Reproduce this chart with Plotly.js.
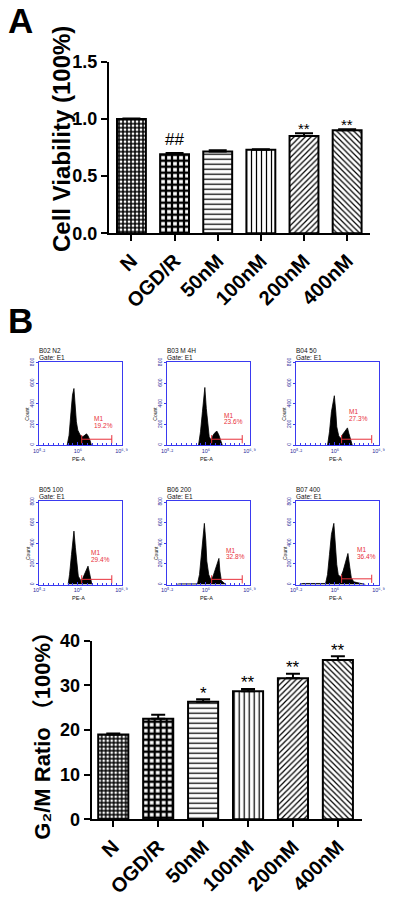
<!DOCTYPE html>
<html><head><meta charset="utf-8">
<script src="https://cdn.plot.ly/plotly-3.0.1.min.js"></script>
<style>html,body{margin:0;padding:0;background:#fff}#chart{width:400px;height:900px}</style>
</head><body><div id="chart"></div>
<script>
// ================= DATA =================
const groups = ['N', 'OGD/R', '50nM', '100nM', '200nM', '400nM'];

// Panel A: cell viability
const viability    = [1.00, 0.69, 0.715, 0.73, 0.85, 0.90];
const viabilityErr = [0.003, 0.012, 0.010, 0.005, 0.025, 0.010];
const viabilityMarks = ['', '##', '', '', '**', '**'];

// Panel B bottom: G2/M ratio
const g2mRatio = [19.0, 22.5, 26.3, 28.7, 31.6, 35.7];
const g2mErr   = [0.2, 0.9, 0.6, 0.5, 1.0, 0.8];
const g2mMarks = ['', '', '*', '**', '**', '**'];

// Panel B flow cytometry histograms (PE-A, log units; Count)
const flowTitles  = ['B02 N2', 'B03 M 4H', 'B04 50', 'B05 100', 'B06 200', 'B07 400'];
const flowGate    = 'Gate: E1';
const flowPercent = ['19.2%', '23.6%', '27.3%', '29.4%', '32.8%', '36.4%'];

const histX1 = [5.78, 5.82, 5.86, 5.89, 5.92, 5.94, 5.97, 6.00, 6.05, 6.10, 6.15, 6.18, 6.21, 6.25, 6.28];
const histY1 = [0, 97, 324, 486, 550, 420, 227, 146, 97, 81, 104, 110, 91, 49, 0];
const histX2 = [5.85, 5.89, 5.93, 5.96, 5.98, 6.01, 6.04, 6.07, 6.11, 6.15, 6.19, 6.23, 6.27, 6.31, 6.34];
const histY2 = [0, 130, 324, 486, 560, 356, 194, 81, 49, 97, 123, 136, 97, 39, 0];
const histX3 = [5.85, 5.89, 5.93, 5.97, 5.99, 6.02, 6.04, 6.08, 6.12, 6.16, 6.21, 6.26, 6.29, 6.33, 6.36];
const histY3 = [0, 130, 324, 437, 480, 324, 178, 91, 65, 104, 136, 168, 113, 39, 0];
const histX4 = [5.80, 5.83, 5.87, 5.90, 5.92, 5.95, 5.98, 6.01, 6.06, 6.10, 6.15, 6.19, 6.21, 6.24, 6.27, 6.29];
const histY4 = [0, 97, 292, 454, 518, 356, 178, 81, 39, 58, 113, 162, 178, 113, 39, 0];
const histX5 = [5.40, 5.45, 5.80, 5.83, 5.87, 5.91, 5.94, 5.97, 6.00, 6.02, 6.06, 6.10, 6.15, 6.19, 6.23, 6.27, 6.29, 6.32, 6.38, 6.42];
const histY5 = [0, 6, 6, 10, 97, 292, 486, 593, 421, 227, 97, 49, 81, 146, 211, 253, 130, 39, 13, 0];
const histX6 = [5.27, 5.34, 5.81, 5.85, 5.89, 5.93, 5.98, 6.01, 6.04, 6.07, 6.12, 6.17, 6.21, 6.25, 6.27, 6.31, 6.34, 6.39, 6.49, 6.63];
const histY6 = [0, 10, 10, 97, 292, 486, 593, 389, 194, 97, 71, 130, 194, 275, 301, 162, 65, 26, 13, 0];

const gateStart = [6.08, 6.12, 6.14, 6.08, 6.12, 6.14];
const gateEnd   = [6.70, 6.75, 6.76, 6.70, 6.75, 6.76];
const gateLevel = [58, 58, 58, 50, 50, 55];

const flowXTickVals = [5.2, 6, 6.9];
const flowXTickText = ['10⁵·²', '10⁶', '10⁶·⁹'];
const flowYTickVals = [0, 200, 400, 600, 800];

// ================= STYLE / LAYOUT =================
const histX = [histX1, histX2, histX3, histX4, histX5, histX6];
const histY = [histY1, histY2, histY3, histY4, histY5, histY6];

const FONT = '"Liberation Sans", Arial, Helvetica, sans-serif';
const BLUE = '#3a3af0';
const RED = '#e8303a';
const W = 400, H = 900;
const px = v => v / W;
const py = v => 1 - v / H;

const patShape    = ['+', '+', '-', '|', '/', '\\'];
const patSize     = [4, 6, 5, 5, 4, 4];
const patSolidity = [0.6, 0.62, 0.25, 0.25, 0.3, 0.3];
const barPattern = {shape: patShape, size: patSize, solidity: patSolidity,
                    fgcolor: '#000', bgcolor: '#fff', fillmode: 'replace'};

const traces = [];
traces.push({
  type: 'bar', x: groups, y: viability, xaxis: 'x', yaxis: 'y', width: 0.67,
  marker: {color: '#fff', line: {color: '#000', width: 2}, pattern: barPattern},
  error_y: {type: 'data', array: viabilityErr, arrayminus: viabilityErr.map(() => 0),
            symmetric: false, color: '#000', thickness: 2, width: 9},
  hoverinfo: 'skip'
});
traces.push({
  type: 'bar', x: groups, y: g2mRatio, xaxis: 'x8', yaxis: 'y8', width: 0.67,
  marker: {color: '#fff', line: {color: '#000', width: 2}, pattern: barPattern},
  error_y: {type: 'data', array: g2mErr, arrayminus: g2mErr.map(() => 0),
            symmetric: false, color: '#000', thickness: 2, width: 7},
  hoverinfo: 'skip'
});

const GATE_TICK = 40; // half height of gate end ticks (counts)
for (let i = 0; i < 6; i++) {
  const n = i + 2;
  traces.push({
    type: 'scatter', mode: 'lines', x: histX[i], y: histY[i],
    xaxis: 'x' + n, yaxis: 'y' + n, fill: 'tozeroy', fillcolor: '#000',
    line: {color: '#000', width: 0.8}, hoverinfo: 'skip'
  });
  const s = gateStart[i], e = gateEnd[i], L = gateLevel[i];
  traces.push({
    type: 'scatter', mode: 'lines',
    x: [s, e, null, s, s, null, e, e],
    y: [L, L, null, L - GATE_TICK, L + GATE_TICK, null, L - GATE_TICK, L + GATE_TICK],
    xaxis: 'x' + n, yaxis: 'y' + n, line: {color: RED, width: 1}, hoverinfo: 'skip'
  });
}

const layout = {
  width: W, height: H, margin: {l: 0, r: 0, t: 0, b: 0},
  paper_bgcolor: '#fff', plot_bgcolor: 'rgba(0,0,0,0)', showlegend: false,
  font: {family: FONT, color: '#000'},
  annotations: []
};

function barX(domain, anchor, range, fs) {
  return {domain, anchor, type: 'category', range, showline: true, linecolor: '#000', linewidth: 2,
    ticks: 'outside', ticklen: 6, tickwidth: 2, tickcolor: '#000', tickangle: -45,
    tickfont: {family: FONT, size: fs, color: '#000', weight: 'bold'},
    showgrid: false, zeroline: false, fixedrange: true};
}
function barY(domain, anchor, range, tickvals, fmt, fs) {
  return {domain, anchor, range, tickvals, tickformat: fmt, showline: true, linecolor: '#000', linewidth: 2,
    ticks: 'outside', ticklen: 6, tickwidth: 2, tickcolor: '#000',
    tickfont: {family: FONT, size: fs, color: '#000', weight: 'bold'},
    showgrid: false, zeroline: false, fixedrange: true};
}

layout.xaxis  = barX([px(109), px(370)], 'y', [-0.52, 5.53], 20);
layout.yaxis  = barY([py(233.3), py(61.7)], 'x', [0, 1.5], [0, 0.5, 1.0, 1.5], '.1f', 18);
layout.xaxis8 = barX([px(91.7), px(361.7)], 'y8', [-0.48, 5.53], 20);
layout.yaxis8 = barY([py(819.3), py(640.7)], 'x8', [0, 40], [0, 10, 20, 30, 40], 'd', 18);

const colLeft = [39, 167, 296];
const rowTop = [361.7, 501];
const boxW = 82.5, boxH = 83.5;
for (let i = 0; i < 6; i++) {
  const n = i + 2;
  const l = colLeft[i % 3], t = rowTop[Math.floor(i / 3)];
  layout['xaxis' + n] = {
    domain: [px(l), px(l + boxW)], anchor: 'y' + n, range: [5.2, 6.9],
    showline: true, mirror: true, linecolor: BLUE, linewidth: 1,
    ticks: 'inside', ticklen: 3, tickwidth: 1, tickcolor: BLUE,
    tickvals: flowXTickVals, ticktext: flowXTickText,
    tickfont: {family: FONT, size: 5.5, color: '#2a2a9a'},
    minor: {ticks: 'inside', ticklen: 2, tickcolor: BLUE, dtick: 0.1, tick0: 5.2, showgrid: false},
    showgrid: false, zeroline: false, fixedrange: true
  };
  layout['yaxis' + n] = {
    domain: [py(t + boxH), py(t)], anchor: 'x' + n, range: [0, 810],
    showline: true, mirror: true, linecolor: BLUE, linewidth: 1,
    ticks: 'outside', ticklen: 2, tickwidth: 1, tickcolor: BLUE,
    tickvals: flowYTickVals, tickangle: -90,
    tickfont: {family: FONT, size: 5, color: '#2a2a9a'},
    showgrid: false, zeroline: false, fixedrange: true
  };
}

const A = layout.annotations;
// Panel letters
A.push({text: '<b>A</b>', xref: 'paper', yref: 'paper', x: px(20), y: py(21), xanchor: 'center', yanchor: 'middle',
        showarrow: false, font: {family: FONT, size: 35, color: '#000'}});
A.push({text: '<b>B</b>', xref: 'paper', yref: 'paper', x: px(20), y: py(320), xanchor: 'center', yanchor: 'middle',
        showarrow: false, font: {family: FONT, size: 35, color: '#000'}});
// Axis titles
A.push({text: '<b>Cell Viability (100%)</b>', textangle: -90, xref: 'paper', yref: 'paper', x: px(62), y: py(139),
        xanchor: 'center', yanchor: 'middle', showarrow: false, font: {family: FONT, size: 24, color: '#000'}});
A.push({text: '<b>G₂/M Ratio （100%）</b>', textangle: -90, xref: 'paper', yref: 'paper', x: px(41.7), y: py(730),
        xanchor: 'center', yanchor: 'middle', showarrow: false,
        font: {family: FONT + ', "DejaVu Sans", "Noto Sans CJK SC"', size: 22, color: '#000'}});
// Significance marks
groups.forEach((g, i) => {
  if (viabilityMarks[i]) A.push({text: viabilityMarks[i], xref: 'x', yref: 'y', x: g, y: viability[i] + viabilityErr[i],
    yanchor: 'middle', yshift: viabilityMarks[i] === '##' ? 13 : 5, showarrow: false,
    font: {family: FONT, size: viabilityMarks[i] === '##' ? 17 : 15, color: '#000'}});
  if (g2mMarks[i]) A.push({text: g2mMarks[i], xref: 'x8', yref: 'y8', x: g, y: g2mRatio[i] + g2mErr[i],
    yanchor: 'middle', yshift: 6, showarrow: false, font: {family: FONT, size: 17, color: '#000'}});
});
// Flow panel texts
const m1X = [6.30, 6.34, 6.26, 6.22, 6.38, 6.42];
const m1Y = [258, 292, 324, 308, 334, 340];
for (let i = 0; i < 6; i++) {
  const n = i + 2;
  const xd = 'x' + n + ' domain', yd = 'y' + n + ' domain';
  const small = {family: FONT, size: 6.5, color: '#111'};
  A.push({text: flowTitles[i], xref: xd, yref: yd, x: -0.02, y: 1.0, yshift: 11.5, xanchor: 'left', yanchor: 'middle', showarrow: false, font: small});
  A.push({text: flowGate, xref: xd, yref: yd, x: -0.02, y: 1.0, yshift: 4.5, xanchor: 'left', yanchor: 'middle', showarrow: false, font: small});
  A.push({text: 'M1', xref: 'x' + n, yref: 'y' + n, x: m1X[i], y: m1Y[i], xanchor: 'left', yanchor: 'middle', showarrow: false,
          font: {family: FONT, size: 6.5, color: RED}});
  A.push({text: flowPercent[i], xref: 'x' + n, yref: 'y' + n, x: m1X[i], y: m1Y[i] - 64, xanchor: 'left', yanchor: 'middle', showarrow: false,
          font: {family: FONT, size: 6.5, color: RED}});
  A.push({text: 'Count', textangle: -90, xref: xd, yref: 'y' + n, x: -0.14, y: 310, xanchor: 'center', yanchor: 'middle', showarrow: false,
          font: {family: FONT, size: 5, color: '#111'}});
  A.push({text: 'PE-A', xref: xd, yref: yd, x: 0.48, y: -0.16, xanchor: 'center', yanchor: 'middle', showarrow: false,
          font: {family: FONT, size: 5.5, color: '#111'}});
}

Plotly.newPlot('chart', traces, layout, {staticPlot: true, displayModeBar: false});
</script>
</body></html>
